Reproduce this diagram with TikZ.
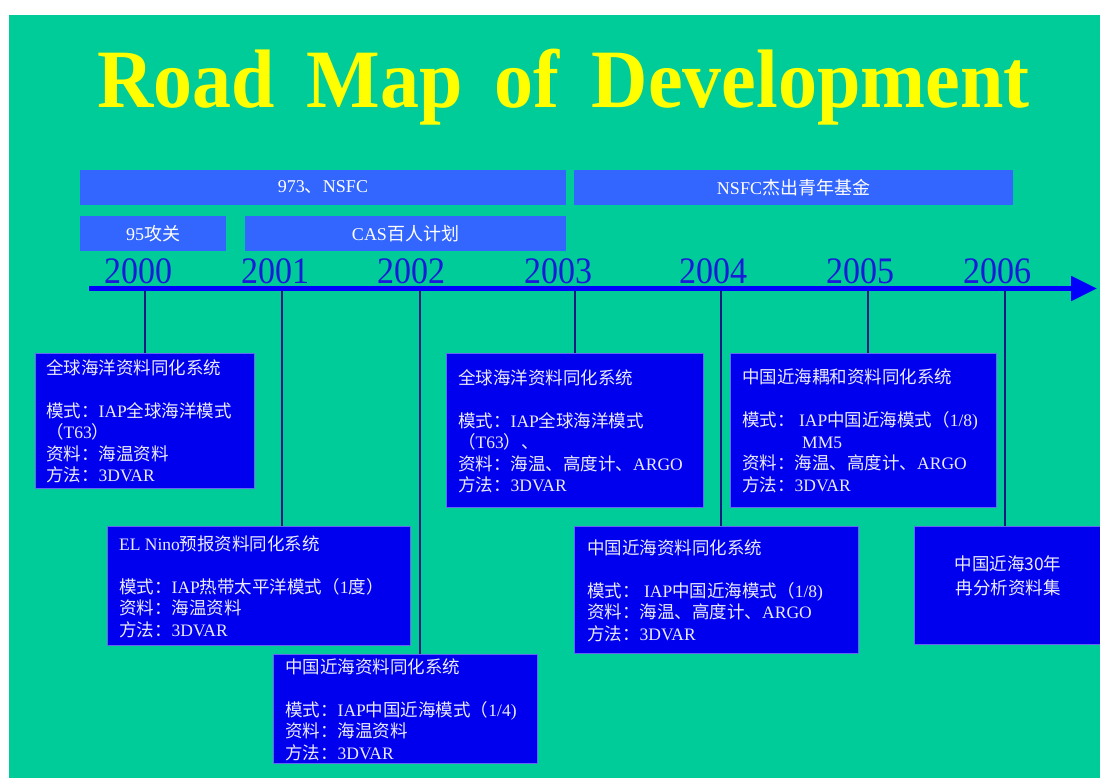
\documentclass[tikz,border=0pt]{standalone}
\usepackage{fontspec}
\setmainfont{Liberation Serif}
\newfontfamily\cjk{Noto Sans CJK SC}
\newcommand\zh[1]{{\cjk #1}}
\usetikzlibrary{arrows.meta}
\definecolor{bgc}{HTML}{00CC99}
\definecolor{barc}{HTML}{3366FF}
\definecolor{boxc}{HTML}{0000EE}
\definecolor{yrc}{HTML}{1A1AD9}
\definecolor{axc}{HTML}{0000FF}
\definecolor{tickc}{HTML}{1A1A80}
\definecolor{ttlc}{HTML}{FFFF00}
\begin{document}
\begin{tikzpicture}[x=1pt,y=-1pt,
  barst/.style={fill=barc, draw=none, text=white, font=\fontsize{18}{18}\selectfont, inner sep=0},
  boxst/.style={fill=boxc, draw=boxc!60!white, line width=0.6pt, anchor=north west, inner sep=0},
  boxtxt/.style={text=white!92!blue, align=left, anchor=base west, inner sep=0, font=\fontsize{17.5}{21.5}\selectfont},
  yr/.style={text=yrc, anchor=base, inner sep=0, font=\fontsize{34}{34}\selectfont},
  ticks/.style={draw=tickc, line width=1.2pt},
  axis/.style={draw=axc, line width=5pt, -{Triangle[length=26pt,width=24pt]}}
]
\useasboundingbox (0,0) rectangle (1100,778);
\fill[white] (0,0) rectangle (1100,778);
\fill[bgc] (9,15) rectangle (1100,778);

% title
\node[anchor=base west, text=ttlc, inner sep=0, font=\fontsize{83}{90}\selectfont\bfseries] (title) at (97,108)
  {\scalebox{0.94}[1]{Road\hspace{34pt}Map\hspace{34pt}of\hspace{34pt}Development}};

% funding bars
\node[barst, minimum width=486pt, minimum height=35pt] (b973) at (323,187.5) {973\zh{、}NSFC};
\node[barst, minimum width=439pt, minimum height=35pt] (bnsfc) at (793.5,187.5) {NSFC\zh{杰出青年基金}};
\node[barst, minimum width=146pt, minimum height=35pt] (b95) at (153,233.5) {95\zh{攻关}};
\node[barst, minimum width=321pt, minimum height=35pt] (bcas) at (405.5,233.5) {CAS\zh{百人计划}};

% years
\node[yr] (y2000) at (138,283) {\scalebox{1}[1.1]{2000}};
\node[yr] (y2001) at (275,283) {\scalebox{1}[1.1]{2001}};
\node[yr] (y2002) at (411,283) {\scalebox{1}[1.1]{2002}};
\node[yr] (y2003) at (558,283) {\scalebox{1}[1.1]{2003}};
\node[yr] (y2004) at (713,283) {\scalebox{1}[1.1]{2004}};
\node[yr] (y2005) at (860,283) {\scalebox{1}[1.1]{2005}};
\node[yr] (y2006) at (997,283) {\scalebox{1}[1.1]{2006}};

% axis
\coordinate (axs) at (89,288.5);
\coordinate (axe) at (1097,288.5);
\coordinate (t0) at (145,288.5);
\coordinate (t1) at (282,288.5);
\coordinate (t2) at (420,288.5);
\coordinate (t3) at (575,288.5);
\coordinate (t4) at (721,288.5);
\coordinate (t5) at (868,288.5);
\coordinate (t6) at (1005,288.5);

% boxes
\node[boxst, minimum width=219pt, minimum height=135pt] (k1) at (35,353) {};
\node[boxst, minimum width=303pt, minimum height=119pt] (k2) at (107,526) {};
\node[boxst, minimum width=264pt, minimum height=109pt] (k3) at (273,654) {};
\node[boxst, minimum width=257pt, minimum height=154pt] (k4) at (446,353) {};
\node[boxst, minimum width=284pt, minimum height=127pt] (k5) at (574,526) {};
\node[boxst, minimum width=266pt, minimum height=154pt] (k6) at (730,353) {};
\node[boxst, minimum width=186pt, minimum height=118pt] (k7) at (914,526) {};

% ticks
\draw[ticks] (t0) -- (t0 |- k1.north);
\draw[ticks] (t1) -- (t1 |- k2.north);
\draw[ticks] (t2) -- (t2 |- k3.north);
\draw[ticks] (t3) -- (t3 |- k4.north);
\draw[ticks] (t4) -- (t4 |- k5.north);
\draw[ticks] (t5) -- (t5 |- k6.north);
\draw[ticks] (t6) -- (t6 |- k7.north);
\draw[axis] (axs) -- (axe);

% box texts (anchored at the baseline of their last line)
\node[boxtxt] (k1t) at (46,481.5) {\zh{全球海洋资料同化系统}\\[21.5pt]
\zh{模式：}IAP\zh{全球海洋模式}\\
\zh{（}T63\zh{）}\\
\zh{资料：海温资料}\\
\zh{方法：}3DVAR};

\node[boxtxt] (k2t) at (119,636) {EL Nino\zh{预报资料同化系统}\\[21.5pt]
\zh{模式：}IAP\zh{热带太平洋模式（}1\zh{度）}\\
\zh{资料：海温资料}\\
\zh{方法：}3DVAR};

\node[boxtxt] (k3t) at (285,759) {\zh{中国近海资料同化系统}\\[21.5pt]
\zh{模式：}IAP\zh{中国近海模式（}1/4)\\
\zh{资料：海温资料}\\
\zh{方法：}3DVAR};

\node[boxtxt] (k4t) at (458,491.5) {\zh{全球海洋资料同化系统}\\[21.5pt]
\zh{模式：}IAP\zh{全球海洋模式}\\
\zh{（}T63\zh{）、}\\
\zh{资料：海温、高度计、}ARGO\\
\zh{方法：}3DVAR};

\node[boxtxt] (k5t) at (587,640) {\zh{中国近海资料同化系统}\\[21.5pt]
\zh{模式：} IAP\zh{中国近海模式（}1/8)\\
\zh{资料：海温、高度计、}ARGO\\
\zh{方法：}3DVAR};

\node[boxtxt] (k6t) at (742,491) {\zh{中国近海耦和资料同化系统}\\[21.5pt]
\zh{模式：} IAP\zh{中国近海模式（}1/8)\\
\hspace*{60pt}MM5\\
\zh{资料：海温、高度计、}ARGO\\
\zh{方法：}3DVAR};

\node[boxtxt, align=center, anchor=base, font=\fontsize{17.5}{24}\selectfont] (k7t) at (1008,594)
  {\zh{中国近海30年}\\\zh{冉分析资料集}};
\end{tikzpicture}
\end{document}
